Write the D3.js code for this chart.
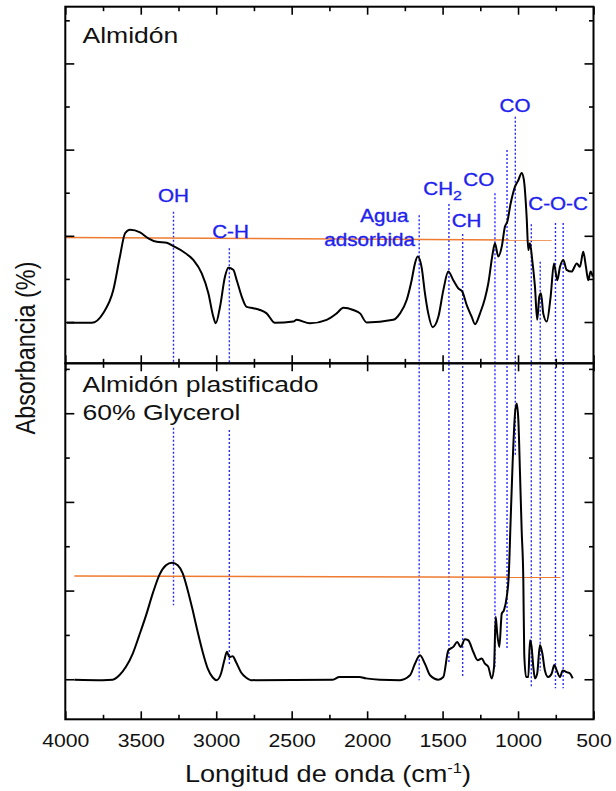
<!DOCTYPE html>
<html>
<head>
<meta charset="utf-8">
<script src="https://cdn.jsdelivr.net/npm/d3@7"></script>
<style>
  html, body { margin: 0; padding: 0; background: #fff; }
  svg { display: block; }
  text { font-family: "Liberation Sans", Arial, sans-serif; }
</style>
</head>
<body>
<svg id="chart" width="616" height="791"></svg>
<script>
// FTIR spectrum of native starch (upper panel), wavenumber in cm-1
const starchWn = [
  3990, 3825, 3748, 3682, 3638, 3604, 3571, 3505, 3450, 3394,
  3328, 3284, 3218, 3152, 3096, 3052, 3019, 3003, 2975, 2942,
  2920, 2887, 2864, 2831, 2798, 2754, 2710, 2666, 2611, 2489,
  2467, 2379, 2268, 2202, 2158, 2092, 2047, 2003, 1827, 1782,
  1738, 1705, 1683, 1665, 1638, 1617, 1595, 1566, 1528, 1495,
  1462, 1429, 1396, 1369, 1340, 1307, 1285, 1252, 1219, 1197,
  1168, 1153, 1131, 1108, 1087, 1071, 1049, 1020, 998, 976,
  961, 943, 932, 921, 906, 888, 873, 859, 848, 833,
  810, 784, 762, 740, 722, 700, 678, 645, 611, 590,
  568, 550, 535, 519, 505
];
const starchAbs = [
  -0.002, -0.002, 0.021, 0.074, 0.152, 0.206, 0.214, 0.208, 0.194, 0.186,
  0.184, 0.176, 0.163, 0.144, 0.113, 0.067, 0.012, -0.003, 0.035, 0.105,
  0.126, 0.121, 0.097, 0.059, 0.035, 0.032, 0.028, 0.020, -0.002, 0.001,
  0.005, -0.003, 0.005, 0.020, 0.033, 0.028, 0.020, -0.001, 0.005, 0.020,
  0.051, 0.097, 0.136, 0.152, 0.125, 0.067, 0.020, -0.012, 0.012, 0.074,
  0.117, 0.097, 0.078, 0.070, 0.039, 0.012, -0.005, 0.020, 0.055, 0.090,
  0.159, 0.183, 0.152, 0.175, 0.221, 0.233, 0.275, 0.314, 0.329, 0.346,
  0.329, 0.244, 0.167, 0.183, 0.144, 0.082, 0.005, 0.059, 0.067, 0.020,
  0.001, 0.059, 0.136, 0.097, 0.128, 0.144, 0.121, 0.117, 0.136, 0.128,
  0.163, 0.128, 0.097, 0.117, 0.105
];

// FTIR spectrum of starch plasticized with 60% glycerol (lower panel)
const plastWn = [
  3940, 3752, 3686, 3642, 3598, 3553, 3510, 3465, 3421, 3377,
  3333, 3293, 3255, 3222, 3189, 3156, 3123, 3090, 3056, 3023,
  2997, 2968, 2946, 2929, 2913, 2891, 2869, 2836, 2803, 2770,
  2228, 2184, 2052, 2008, 1915, 1782, 1716, 1683, 1650, 1617,
  1583, 1528, 1495, 1462, 1429, 1403, 1380, 1352, 1330, 1297,
  1267, 1241, 1219, 1197, 1175, 1159, 1148, 1138, 1124, 1108,
  1093, 1075, 1062, 1049, 1036, 1020, 1009, 998, 987, 976,
  965, 959, 947, 932, 921, 910, 899, 888, 873, 855,
  839, 822, 800, 777, 760, 744, 722, 704, 678, 656, 638
];
const plastAbs = [
  -0.001, -0.002, -0.001, 0.009, 0.028, 0.058, 0.099, 0.144, 0.193, 0.235,
  0.257, 0.263, 0.257, 0.239, 0.201, 0.156, 0.107, 0.062, 0.024, 0.004,
  -0.002, 0.013, 0.043, 0.062, 0.050, 0.052, 0.039, 0.016, 0.004, -0.002,
  -0.001, 0.005, 0.005, 0.002, -0.001, -0.002, 0.009, 0.035, 0.054, 0.035,
  0.009, -0.001, 0.005, 0.065, 0.073, 0.084, 0.073, 0.090, 0.088, 0.062,
  0.043, 0.047, 0.035, 0.028, 0.002, 0.028, 0.141, 0.103, 0.073, 0.148,
  0.156, 0.186, 0.231, 0.359, 0.487, 0.600, 0.622, 0.585, 0.464, 0.336,
  0.223, 0.058, 0.005, 0.005, 0.088, 0.073, 0.028, 0.002, 0.013, 0.077,
  0.058, 0.020, 0.005, 0.013, 0.032, 0.020, 0.005, 0.020, 0.016, 0.013, 0.002
];

// Reference levels (orange lines)
const refTopWn = [4000, 777];
const refTopAbs = [0.196, 0.190];
const refBotWn = [3940, 719];
const refBotAbs = [0.233, 0.230];

// Band markers that run through both panels
const bandWn = [1655, 1458, 1367, 1153, 1073, 1018, 912, 853, 752, 701];
const bandTopStart = [0.248, 0.274, 0.204, 0.299, 0.399, 0.476, 0.227, 0.14, 0.23, 0.23];
const bandBotEnd = [-0.002, 0.036, 0.005, 0.028, 0.07, 0.502, -0.02, 0.02, -0.02, -0.02];

// O-H and C-H markers: separate segments in each panel
const splitWn = [3283, 2913];
const splitTopStart = [0.256, 0.171];
const splitBotStart = [0.567, 0.562];
const splitBotEnd = [0.167, 0.032];

// Band labels (upper panel)
const bandLabels = ["OH", "C-H", "Agua", "adsorbida", "CH", "CO", "CH", "CO", "C-O-C"];
const bandLabelWn = [3283, 2905, 1886, 1683, 1628, 1363, 1440, 1020, 735];
const bandLabelAbs = [0.278, 0.194, 0.233, 0.177, 0.295, 0.316, 0.221, 0.488, 0.260];
const bandLabelAnchor = ["middle", "middle", "middle", "end", "start", "start", "start", "middle", "middle"];
const bandLabelSub = ["", "", "", "", "2", "", "", "", ""];

// Axis ticks
const xMajor = [4000, 3500, 3000, 2500, 2000, 1500, 1000, 500];
const xMinor = [3750, 3250, 2750, 2250, 1750, 1250, 750];
const yMajor = [0, 0.2, 0.4, 0.6];
const yMinor = [0.1, 0.3, 0.5, 0.7];

const panelTitles = [["Almidón"], ["Almidón plastificado", "60% Glycerol"]];
const xTitle = "Longitud de onda (cm";
const yTitle = "Absorbancia (%)";

// ---- layout ----
const frame = { left: 65.3, right: 593.5, top: 6.7, mid: 363.3, bottom: 719.3 };
const SX = 1.18; // horizontal glyph stretch used by all text

const svg = d3.select("#chart");
svg.append("rect").attr("width", 616).attr("height", 791).attr("fill", "#fff");

const x = d3.scaleLinear().domain([4000, 500]).range([frame.left, frame.right]);
const yTop = d3.scaleLinear().domain([-0.0958, 0.7316]).range([frame.mid, frame.top]);
const yBot = d3.scaleLinear().domain([-0.0903, 0.7126]).range([frame.bottom, frame.mid]);

const blue = "#2a2aff";
const blueText = "#1f1fee";
const orange = "#ee7b30";

// ---- band marker lines (dotted blue) ----
const gBands = svg.append("g")
  .attr("stroke", blue).attr("stroke-width", 1.4).attr("stroke-dasharray", "2,2").attr("fill", "none");

gBands.selectAll("line.band").data(bandWn).join("line")
  .attr("class", "band")
  .attr("x1", d => x(d)).attr("x2", d => x(d))
  .attr("y1", (d, i) => yTop(bandTopStart[i]))
  .attr("y2", (d, i) => yBot(bandBotEnd[i]));

gBands.selectAll("line.splitTop").data(splitWn).join("line")
  .attr("class", "splitTop")
  .attr("x1", d => x(d)).attr("x2", d => x(d))
  .attr("y1", (d, i) => yTop(splitTopStart[i]))
  .attr("y2", yTop(yTop.domain()[0]));

gBands.selectAll("line.splitBot").data(splitWn).join("line")
  .attr("class", "splitBot")
  .attr("x1", d => x(d)).attr("x2", d => x(d))
  .attr("y1", (d, i) => yBot(splitBotStart[i]))
  .attr("y2", (d, i) => yBot(splitBotEnd[i]));

// ---- orange reference lines ----
const refLine = (ys) => d3.line().x(d => x(d[0])).y(d => ys(d[1]));
svg.append("path")
  .datum(refTopWn.map((w, i) => [w, refTopAbs[i]]))
  .attr("d", refLine(yTop)).attr("stroke", orange).attr("stroke-width", 1.5).attr("fill", "none");
svg.append("path")
  .datum(refBotWn.map((w, i) => [w, refBotAbs[i]]))
  .attr("d", refLine(yBot)).attr("stroke", orange).attr("stroke-width", 1.5).attr("fill", "none");

// ---- spectra ----
const specLine = (ys) => d3.line().x(d => x(d[0])).y(d => ys(d[1])).curve(d3.curveMonotoneX);
svg.append("path")
  .datum(starchWn.map((w, i) => [w, starchAbs[i]]))
  .attr("d", specLine(yTop)).attr("stroke", "#000").attr("stroke-width", 2)
  .attr("stroke-linejoin", "round").attr("fill", "none");
svg.append("path")
  .datum(plastWn.map((w, i) => [w, plastAbs[i]]))
  .attr("d", specLine(yBot)).attr("stroke", "#000").attr("stroke-width", 2)
  .attr("stroke-linejoin", "round").attr("fill", "none");

// ---- band labels ----
const gLabels = svg.append("g")
  .attr("fill", blueText).attr("stroke", blueText).attr("stroke-width", 0.35)
  .attr("font-size", 17.5);
bandLabels.forEach((t, i) => {
  const tx = gLabels.append("text")
    .attr("transform", `translate(${x(bandLabelWn[i])},${yTop(bandLabelAbs[i])}) scale(${SX},1)`)
    .attr("text-anchor", bandLabelAnchor[i])
    .text(t);
  if (bandLabelSub[i]) {
    tx.append("tspan").attr("font-size", 13.5).attr("dy", 5).text(bandLabelSub[i]);
  }
});

// ---- axes (inward ticks, frame drawn separately) ----
function styleAxis(g) {
  g.select(".domain").remove();
  g.selectAll(".tick line").attr("stroke", "#000").attr("stroke-width", 1.6);
}
function xTicks(y, maker, size, values, labelled) {
  const ax = maker(x).tickValues(values).tickSize(size).tickFormat(labelled ? d3.format("d") : "");
  return svg.append("g").attr("transform", `translate(0,${y})`).call(ax).call(styleAxis);
}
// upper panel
xTicks(frame.top, d3.axisTop, -8, xMajor, false);
xTicks(frame.top, d3.axisTop, -4.5, xMinor, false);
xTicks(frame.mid, d3.axisBottom, -8, xMajor, false);
xTicks(frame.mid, d3.axisBottom, -4.5, xMinor, false);
// lower panel
xTicks(frame.mid, d3.axisTop, -8, xMajor, false);
xTicks(frame.mid, d3.axisTop, -4.5, xMinor, false);
const gx = xTicks(frame.bottom, d3.axisBottom, -8, xMajor, true);
xTicks(frame.bottom, d3.axisBottom, -4.5, xMinor, false);

gx.selectAll(".tick text")
  .attr("y", 0).attr("dy", 0)
  .attr("transform", `translate(0,27.7) scale(${SX},1)`)
  .attr("font-size", 18).attr("fill", "#111")
  .attr("font-family", "Liberation Sans, Arial, sans-serif");

function yTicks(ys) {
  [[d3.axisLeft, frame.left], [d3.axisRight, frame.right]].forEach(([maker, px]) => {
    svg.append("g").attr("transform", `translate(${px},0)`)
      .call(maker(ys).tickValues(yMajor).tickSize(-9).tickFormat("")).call(styleAxis);
    svg.append("g").attr("transform", `translate(${px},0)`)
      .call(maker(ys).tickValues(yMinor).tickSize(-4.5).tickFormat("")).call(styleAxis);
  });
}
yTicks(yTop);
yTicks(yBot);

// ---- panel frames ----
svg.append("rect")
  .attr("x", frame.left).attr("y", frame.top)
  .attr("width", frame.right - frame.left).attr("height", frame.mid - frame.top)
  .attr("fill", "none").attr("stroke", "#000").attr("stroke-width", 2);
svg.append("rect")
  .attr("x", frame.left).attr("y", frame.mid)
  .attr("width", frame.right - frame.left).attr("height", frame.bottom - frame.mid)
  .attr("fill", "none").attr("stroke", "#000").attr("stroke-width", 2);

// ---- panel titles ----
const titleY = [[42.7], [391.7, 420]];
panelTitles.forEach((lines, p) => {
  lines.forEach((t, k) => {
    svg.append("text")
      .attr("transform", `translate(82.5,${titleY[p][k]}) scale(${SX},1)`)
      .attr("font-size", 22.5).attr("fill", "#111")
      .text(t);
  });
});

// ---- axis titles ----
const xt = svg.append("text")
  .attr("transform", `translate(328,782) scale(${SX},1)`)
  .attr("text-anchor", "middle").attr("font-size", 23).attr("fill", "#111");
xt.append("tspan").text(xTitle);
xt.append("tspan").attr("font-size", 14).attr("dy", -9).text("-1");
xt.append("tspan").attr("dy", 9).text(")");

svg.append("text")
  .attr("transform", `translate(35,348) scale(${SX},1) rotate(-90)`)
  .attr("text-anchor", "middle").attr("font-size", 23.4).attr("fill", "#111")
  .text(yTitle);
</script>
</body>
</html>
